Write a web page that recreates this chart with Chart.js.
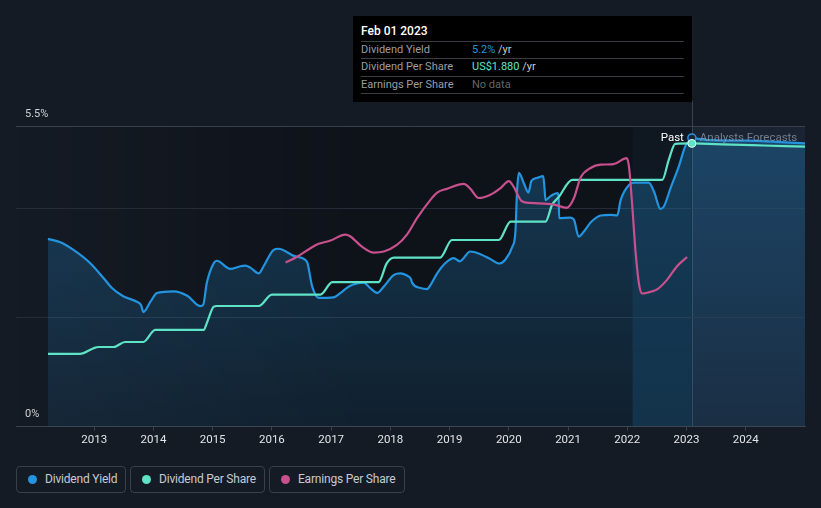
<!DOCTYPE html>
<html><head><meta charset="utf-8">
<script src="https://cdn.jsdelivr.net/npm/chart.js@4.4.1/dist/chart.umd.min.js"></script>
<style>
html,body{margin:0;padding:0;background:#151b25;width:821px;height:508px;overflow:hidden;font-family:Roboto,"Noto Sans",sans-serif;}
#wrap{position:absolute;left:0;top:0;width:821px;height:460px;}
#tip{position:absolute;left:353px;top:16px;width:339px;height:86px;background:#000;}
#tip .t{position:absolute;left:8px;top:7px;height:16px;line-height:16px;font-size:12px;font-weight:500;color:#fff;}
#tip .sep{position:absolute;left:8px;width:323px;height:1px;background:#3a3d42;}
#tip .row{position:absolute;left:8px;height:16px;line-height:16px;font-size:11px;color:#9a9ea5;width:330px;}
#tip .row .v{position:absolute;left:111px;top:0;}
.leg{position:absolute;top:466px;height:25px;border:1px solid #3a404b;border-radius:4px;box-sizing:content-box;}
.leg .d{position:absolute;left:11px;top:8px;width:9px;height:9px;border-radius:50%;}
.leg .l{position:absolute;left:28px;top:0;line-height:25px;font-size:12px;color:#c6cad0;white-space:nowrap;letter-spacing:-0.2px;}
</style></head>
<body>
<div id="wrap"><canvas id="c" width="821" height="460"></canvas></div>
<div id="tip">
  <div class="t">Feb 01 2023</div>
  <div class="sep" style="top:25px"></div>
  <div class="row" style="top:25.5px">Dividend Yield<span class="v"><span style="color:#2394df">5.2%</span><span style="color:#c9ccd1"> /yr</span></span></div>
  <div class="sep" style="top:42px"></div>
  <div class="row" style="top:42.5px">Dividend Per Share<span class="v"><span style="color:#5fe3c6">US$1.880</span><span style="color:#c9ccd1"> /yr</span></span></div>
  <div class="sep" style="top:60px"></div>
  <div class="row" style="top:60.5px">Earnings Per Share<span class="v" style="color:#63666b">No data</span></div>
  <div class="sep" style="top:77px"></div>
</div>
<div class="leg" style="left:16px;width:108px"><div class="d" style="background:#2394df"></div><div class="l">Dividend Yield</div></div>
<div class="leg" style="left:130px;width:133px"><div class="d" style="background:#5fe3c6"></div><div class="l">Dividend Per Share</div></div>
<div class="leg" style="left:269px;width:134px"><div class="d" style="background:#c7508d"></div><div class="l">Earnings Per Share</div></div>
<script>
// ---- data ----
const xTickYears = [2013,2014,2015,2016,2017,2018,2019,2020,2021,2022,2023,2024];
const yTickValues = [0,2,4,5.5];
const yTickLabels = ['0%','','','5.5%'];
const xMin = 2011.68, xMax = 2025.0;
const nowYear = 2023.09, highlightStart = 2022.09;

// Dividend yield (%), past
const yieldYears = [2012.22,2012.43,2012.65,2012.93,2013.16,2013.30,2013.49,2013.72,2013.79,2013.83,2013.95,2014.06,2014.34,2014.57,2014.79,2014.84,2014.90,2015.02,2015.07,2015.30,2015.47,2015.55,2015.64,2015.78,2015.86,2016.03,2016.11,2016.37,2016.56,2016.60,2016.68,2016.79,2017.04,2017.16,2017.30,2017.55,2017.66,2017.78,2017.89,2018.06,2018.17,2018.28,2018.34,2018.37,2018.51,2018.62,2018.68,2018.79,2018.93,2019.07,2019.17,2019.35,2019.52,2019.69,2019.83,2019.94,2020.06,2020.11,2020.14,2020.17,2020.25,2020.33,2020.38,2020.48,2020.58,2020.60,2020.62,2020.70,2020.82,2020.84,2020.85,2021.04,2021.10,2021.18,2021.27,2021.38,2021.55,2021.72,2021.83,2021.89,2022.03,2022.11,2022.36,2022.45,2022.56,2022.62,2022.73,2022.87,2022.98,2023.09];
const yieldValues = [3.44,3.38,3.24,3.00,2.72,2.54,2.39,2.29,2.23,2.10,2.29,2.45,2.48,2.40,2.21,2.23,2.63,3.00,3.04,2.89,2.94,2.95,2.91,2.81,2.94,3.24,3.26,3.13,3.06,3.00,2.57,2.36,2.37,2.45,2.57,2.64,2.54,2.45,2.57,2.78,2.81,2.77,2.72,2.63,2.54,2.52,2.60,2.81,3.00,3.09,3.03,3.21,3.16,3.07,2.99,3.06,3.30,3.55,4.34,4.65,4.47,4.29,4.50,4.56,4.59,4.40,4.15,4.22,4.28,4.22,3.82,3.83,3.79,3.48,3.58,3.74,3.87,3.88,3.87,4.16,4.43,4.47,4.47,4.31,3.99,4.04,4.37,4.77,5.14,5.29];
// Dividend yield (%), analysts forecast
const yieldFcYears = [2023.09,2023.40,2024.00,2024.50,2025.00];
const yieldFcValues = [5.29,5.25,5.24,5.22,5.19];

// Dividend per share (US$), past
const dpsYears = [2012.22,2012.76,2012.99,2013.07,2013.33,2013.52,2013.83,2014.03,2014.85,2014.90,2015.02,2015.07,2015.78,2016.00,2016.82,2017.02,2017.80,2017.94,2018.06,2018.84,2019.04,2019.83,2020.03,2020.62,2020.73,2020.84,2021.07,2022.59,2022.70,2022.81,2023.09];
const dpsValues = [0.483,0.483,0.521,0.529,0.529,0.562,0.562,0.642,0.642,0.686,0.797,0.801,0.801,0.877,0.877,0.959,0.959,1.085,1.122,1.122,1.239,1.239,1.361,1.361,1.472,1.523,1.638,1.638,1.771,1.877,1.880];
// Dividend per share (US$), analysts forecast
const dpsFcYears = [2023.09,2023.60,2024.30,2025.00];
const dpsFcValues = [1.880,1.874,1.866,1.858];

// Earnings per share (US$)
const epsYears = [2016.23,2016.42,2016.65,2016.79,2016.99,2017.24,2017.32,2017.52,2017.72,2017.89,2018.11,2018.28,2018.45,2018.68,2018.79,2018.96,2019.24,2019.35,2019.49,2019.69,2019.86,2020.00,2020.08,2020.22,2020.36,2020.76,2020.98,2021.10,2021.21,2021.38,2021.55,2021.77,2021.99,2022.03,2022.08,2022.14,2022.20,2022.25,2022.42,2022.51,2022.67,2022.84,2023.01];
const epsValues = [3.01,3.11,3.27,3.35,3.41,3.52,3.49,3.30,3.19,3.21,3.33,3.52,3.82,4.16,4.29,4.36,4.45,4.36,4.19,4.25,4.37,4.50,4.40,4.13,4.10,4.07,4.01,4.19,4.56,4.74,4.80,4.81,4.92,4.75,4.10,3.20,2.60,2.44,2.48,2.52,2.69,2.94,3.11];

const BLUE = '#2394df', TEAL = '#5fe3c6', PINK = '#c7508d';
function pts(xs, ys){ return xs.map((x,i)=>({x:x, y:ys[i]})); }

function fillGrad(ctx){
  const ch = ctx.chart, a = ch.chartArea;
  if(!a) return 'rgba(35,150,225,0.18)';
  const g = ch.ctx.createLinearGradient(0, a.top, 0, a.bottom);
  g.addColorStop(0, 'rgba(35,150,225,0.30)');
  g.addColorStop(1, 'rgba(35,150,225,0.10)');
  return g;
}

const bgPlugin = {
  id:'bgPlugin',
  beforeDraw(chart){
    const c = chart.ctx, a = chart.chartArea, xs = chart.scales.x;
    const xNow = xs.getPixelForValue(nowYear), xHl = xs.getPixelForValue(highlightStart);
    c.save();
    let g = c.createLinearGradient(a.left,0,xNow,0);
    g.addColorStop(0,'rgba(0,0,0,0)');
    g.addColorStop(0.5,'rgba(0,0,0,0.3)');
    g.addColorStop(1,'rgba(0,0,0,0.3)');
    c.fillStyle = g;
    c.fillRect(a.left, a.top, xNow-a.left, a.bottom-a.top);
    c.fillStyle = 'rgba(40,60,90,0.25)';
    c.fillRect(xNow, a.top, a.right-xNow, a.bottom-a.top);
    g = c.createLinearGradient(0,a.top,0,a.bottom);
    g.addColorStop(0,'rgba(35,150,225,0.03)');
    g.addColorStop(1,'rgba(35,150,225,0.16)');
    c.fillStyle = g;
    c.fillRect(xHl, a.top, xNow-xHl, a.bottom-a.top);
    c.strokeStyle = '#3a4250'; c.lineWidth = 1;
    c.beginPath(); c.moveTo(Math.round(xNow)+0.5, 101); c.lineTo(Math.round(xNow)+0.5, a.bottom); c.stroke();
    c.restore();
  },
  afterDatasetsDraw(chart){
    const c = chart.ctx, xs = chart.scales.x;
    const xNow = xs.getPixelForValue(nowYear);
    c.save();
    c.font = '11.5px Roboto';
    c.textBaseline = 'middle';
    c.textAlign = 'right'; c.fillStyle = '#ffffff';
    c.fillText('Past', xNow-8, 138);
    c.textAlign = 'left'; c.fillStyle = 'rgba(150,158,170,0.75)';
    c.fillText('Analysts Forecasts', xNow+8, 138);
    c.restore();
  }
};

const lastIdx = (arr) => arr.length-1;

new Chart(document.getElementById('c'), {
  type:'line',
  data:{ datasets:[
    { label:'Earnings Per Share', data:pts(epsYears,epsValues), yAxisID:'y3', borderColor:PINK, borderWidth:2.2, pointRadius:0, cubicInterpolationMode:'monotone', fill:false },
    { label:'Dividend Per Share', data:pts(dpsYears,dpsValues), yAxisID:'y2', borderColor:TEAL, borderWidth:2.2,
      pointRadius:(ctx)=>ctx.dataIndex===lastIdx(dpsYears)?4:0, pointBackgroundColor:TEAL, pointBorderColor:'#dffcf4', pointBorderWidth:1, cubicInterpolationMode:'monotone', fill:false },
    { label:'Dividend Yield', data:pts(yieldYears,yieldValues), yAxisID:'y', borderColor:BLUE, borderWidth:2.2,
      pointRadius:(ctx)=>ctx.dataIndex===lastIdx(yieldYears)?4:0, pointBackgroundColor:'#1b2433', pointBorderColor:BLUE, pointBorderWidth:1.5, cubicInterpolationMode:'monotone', fill:'origin', backgroundColor:fillGrad },
    { label:'DPS forecast', data:pts(dpsFcYears,dpsFcValues), yAxisID:'y2', borderColor:TEAL, borderWidth:2.2, pointRadius:0, cubicInterpolationMode:'monotone', fill:false },
    { label:'Yield forecast', data:pts(yieldFcYears,yieldFcValues), yAxisID:'y', borderColor:BLUE, borderWidth:2.2, pointRadius:0, cubicInterpolationMode:'monotone', fill:'origin', backgroundColor:fillGrad }
  ]},
  options:{
    responsive:false, animation:false, devicePixelRatio:1,
    layout:{ padding:{ left:16, right:16, top:126.5, bottom:3.3 } },
    plugins:{ legend:{display:false}, tooltip:{enabled:false} },
    scales:{
      x:{ type:'linear', min:xMin, max:xMax,
        afterBuildTicks:(s)=>{ s.ticks = xTickYears.map(v=>({value:v})); },
        afterFit:(s)=>{ s.height = 30; },
        grid:{ drawOnChartArea:false, drawTicks:true, tickLength:4, color:'#3c424d' },
        border:{ display:true, color:'#3c424d' },
        ticks:{ color:'#e2e4e8', font:{family:'Roboto', size:11.5}, padding:3, maxRotation:0, autoSkip:false, callback:(v)=>String(v) } },
      y:{ min:0, max:5.5,
        afterBuildTicks:(s)=>{ s.ticks = yTickValues.map(v=>({value:v})); },
        afterFit:(s)=>{ s.width = 0; },
        grid:{ color:(ctx)=> (ctx.tick && ctx.tick.value===5.5) ? '#3a404b' : '#262c37', drawTicks:false },
        border:{ display:false },
        ticks:{ mirror:true, padding:9, labelOffset:-12, color:'#cfd2d6', font:{family:'Roboto', size:11}, callback:(v,i)=>yTickLabels[i] } },
      y2:{ display:false, min:0, max:1.992 },
      y3:{ display:false, min:0, max:5.5 }
    }
  },
  plugins:[bgPlugin]
});
</script>
</body></html>
